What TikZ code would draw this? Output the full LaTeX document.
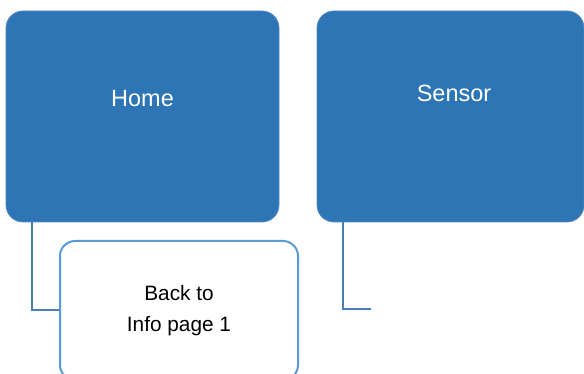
\documentclass[tikz,border=0pt]{standalone}
\usepackage{fontspec}
\setmainfont{Liberation Sans}
\usetikzlibrary{calc}
\definecolor{mainfill}{HTML}{2E75B6}
\definecolor{mainedge}{HTML}{5089C2}
\definecolor{linkline}{HTML}{4A7EB0}
\definecolor{childedge}{HTML}{5B9BD5}
\tikzset{
  x=1pt, y=1pt,
  mainbox/.style={draw=mainedge, line width=0.8pt, fill=mainfill, rounded corners=17pt,
    minimum width=273pt, minimum height=211pt, inner sep=0pt},
  maintext/.style={text=white, font=\fontsize{23.5}{28}\selectfont, inner sep=0pt},
  childbox/.style={draw=childedge, line width=2pt, fill=white, rounded corners=15pt,
    minimum width=238pt, minimum height=139pt, inner sep=0pt,
    align=center, font=\fontsize{20.8}{31}\selectfont},
  linkstyle/.style={draw=linkline, line width=2pt},
}
\begin{document}
\begin{tikzpicture}
\useasboundingbox (0,0) rectangle (584,374);
\begin{scope}
\clip (0,0) rectangle (584,374);
% top-level boxes
\node[mainbox] (home) at (142.5,257.5) {};
\node[maintext] (hometext) at (142.5,275) {Home};
\node[mainbox, minimum width=267pt] (sensor) at (450.5,257.5) {};
\node[maintext] (sensortext) at (454,281) {Sensor};
% child of Home
\node[childbox] (back) at (179,63.5) {Back to\\Info page 1};
% connectors
\coordinate (homeleg) at ($(home.south west)+(26,0)$);
\coordinate (sensorleg) at ($(sensor.south west)+(26,0)$);
\coordinate (sensorend) at (371,65);
\draw[linkstyle] (homeleg) |- (back.west);
\draw[linkstyle] (sensorleg) |- (sensorend);
\end{scope}
\end{tikzpicture}
\end{document}
